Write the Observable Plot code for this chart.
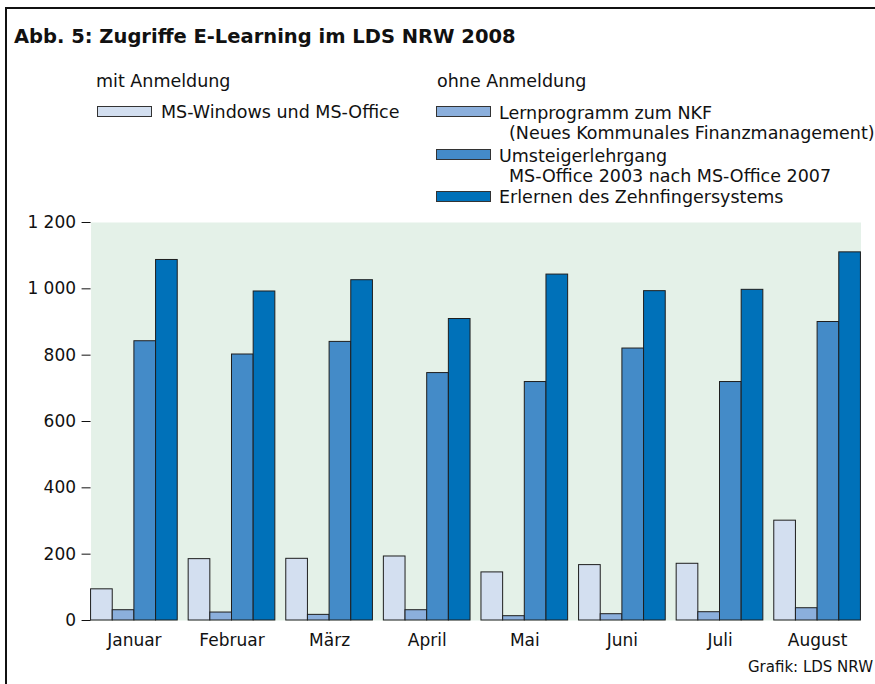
<!DOCTYPE html>
<html>
<head>
<meta charset="utf-8">
<script src="https://cdn.jsdelivr.net/npm/d3@7"></script>
<script src="https://cdn.jsdelivr.net/npm/@observablehq/plot@0.6"></script>
<style>
  html, body { margin: 0; padding: 0; background: #fff; }
  #page { position: relative; width: 875px; height: 684px; overflow: hidden; font-family: "DejaVu Sans", sans-serif; color: #111; }
  #frame { position: absolute; left: 5px; top: 7px; width: 880px; height: 690px; border-left: 2px solid #111; border-top: 2px solid #111; }
  .t { position: absolute; white-space: nowrap; font-size: 17.5px; line-height: 20px; }
  #title { position: absolute; left: 14px; top: 25px; font-size: 19.5px; font-weight: 700; line-height: 24px; white-space: nowrap; }
  .box { position: absolute; width: 55px; height: 11px; box-sizing: border-box; border: 1px solid #333; }
  #chart { position: absolute; left: 0; top: 200px; }
  #caption { position: absolute; right: 2px; top: 657px; font-size: 15px; line-height: 20px; }
</style>
</head>
<body>
<div id="page">
  <div id="frame"></div>
  <div id="title">Abb. 5: Zugriffe E-Learning im LDS NRW 2008</div>
  <div id="legend"></div>
  <div id="chart"></div>
  <div id="caption">Grafik: LDS NRW</div>
</div>
<script>
const months = ["Januar", "Februar", "März", "April", "Mai", "Juni", "Juli", "August"];
const seriesNames = [
  "MS-Windows und MS-Office",
  "Lernprogramm zum NKF",
  "Umsteigerlehrgang",
  "Erlernen des Zehnfingersystems"
];
const seriesSublines = ["", "(Neues Kommunales Finanzmanagement)", "MS-Office 2003 nach MS-Office 2007", ""];
const groupTitles = ["mit Anmeldung", "ohne Anmeldung"];
const windowsOffice = [94, 185, 186, 193, 145, 167, 171, 301];
const nkf = [31, 24, 17, 31, 13, 19, 25, 37];
const umsteiger = [842, 802, 840, 746, 719, 820, 719, 900];
const zehnfinger = [1087, 992, 1026, 909, 1043, 993, 997, 1110];
const colors = ["#d3dff0", "#8bafdc", "#448bc8", "#0071b9"];
const yTicks = [0, 200, 400, 600, 800, 1000, 1200];

const seriesValues = [windowsOffice, nkf, umsteiger, zehnfinger];
const data = months.flatMap((m, i) => seriesNames.map((s, j) => ({month: m, series: s, value: seriesValues[j][i]})));

// Legend (HTML)
const legend = document.getElementById("legend");
function addText(txt, x, y) {
  const d = document.createElement("div");
  d.className = "t";
  d.style.left = x + "px";
  d.style.top = y + "px";
  d.textContent = txt;
  legend.appendChild(d);
}
function addBox(color, x, y) {
  const b = document.createElement("div");
  b.className = "box";
  b.style.left = x + "px";
  b.style.top = y + "px";
  b.style.background = color;
  legend.appendChild(b);
}
addText(groupTitles[0], 96, 71);
addText(groupTitles[1], 437, 71);
const legendPos = [
  {bx: 97, by: 106, tx: 161, ty: 102},
  {bx: 436, by: 106, tx: 499, ty: 103},
  {bx: 436, by: 149, tx: 499, ty: 146},
  {bx: 436, by: 191, tx: 499, ty: 187}
];
seriesNames.forEach((s, j) => {
  const p = legendPos[j];
  addBox(colors[j], p.bx, p.by);
  addText(s, p.tx, p.ty);
  if (seriesSublines[j]) addText(seriesSublines[j], p.tx + 10, p.ty + 20);
});

const fmt = d => d3.format(",")(d).replace(",", " ");

const chart = Plot.plot({
  width: 875,
  height: 460,
  marginLeft: 85,
  marginRight: 9,
  marginTop: 22,
  marginBottom: 40,
  style: {fontFamily: "DejaVu Sans, sans-serif", fontSize: "17px", color: "#111", background: "transparent", overflow: "visible"},
  fx: {domain: months, paddingInner: 0.112, paddingOuter: 0.057, round: false, label: null, axis: "bottom", tickSize: 0, tickPadding: 13},
  x: {domain: seriesNames, padding: 0, round: false, axis: null},
  y: {domain: [0, 1200], ticks: yTicks, tickFormat: fmt, tickSize: 9, tickPadding: 6, label: null},
  color: {domain: seriesNames, range: colors},
  marks: [
    Plot.frame({facet: "super", fill: "#e4f1e8", stroke: null}),
    Plot.barY(data, {fx: "month", x: "series", y: "value", fill: "series", stroke: "#1e1e1e", strokeWidth: 1})
  ]
});
document.getElementById("chart").appendChild(chart);
</script>
</body>
</html>
